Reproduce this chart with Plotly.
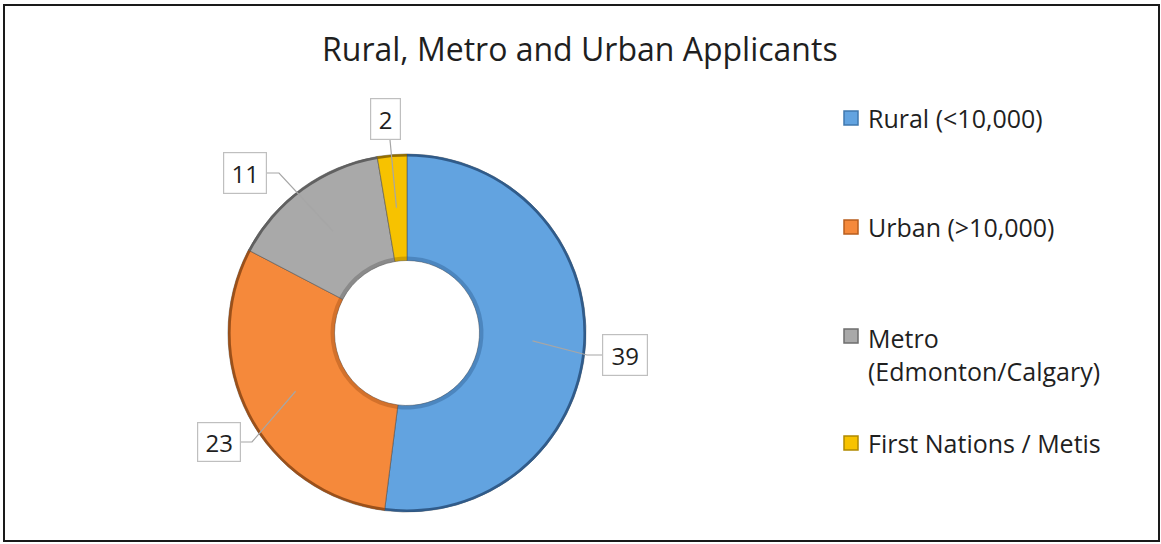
import math
import plotly.graph_objects as go

# ---------------- data ----------------
categories = ["Rural (<10,000)", "Urban (>10,000)", "Metro (Edmonton/Calgary)", "First Nations / Metis"]
legend_labels = ["Rural (<10,000)", "Urban (>10,000)", "Metro<br>(Edmonton/Calgary)", "First Nations / Metis"]
values = [39, 23, 11, 2]
title_text = "Rural, Metro and Urban Applicants"

# ---------------- style / layout ----------------
colors = ["#62A3E0", "#F5893B", "#A9A9A9", "#F7C200"]
rim_colors = ["rgba(40,80,125,0.85)", "rgba(140,70,20,0.85)", "rgba(85,85,85,0.85)", "rgba(130,95,0,0.85)"]
inner_colors = ["rgba(50,100,150,0.45)", "rgba(170,85,25,0.45)", "rgba(100,100,100,0.45)", "rgba(160,120,0,0.45)"]
edge_colors = ["#3F78AE", "#B85E1E", "#6E6E6E", "#B08900"]
W, H = 1161, 544
CX, CY, R = 407, 333, 179          # pie centre / radius in px
HOLE = 0.405
FONT = "'Open Sans', Lato, sans-serif"
TXT = "#1f1f1f"

# label boxes: centre (px), and where the leader line meets the box
label_boxes = [
    dict(cx=625, cy=355, w=46, h=42, side="left", elbow=15),
    dict(cx=219, cy=442, w=44, h=40, side="right", elbow=11),
    dict(cx=245, cy=173, w=44, h=42, side="right", elbow=12),
    dict(cx=386, cy=119, w=31, h=42, side="bottom", elbow=0),
]
legend_x, legend_text_x = 851, 866
legend_y = [118, 227, 336, 443]
legend_text_y = [118, 227, 354, 443]


def px(x):
    return x / W


def py(y):
    return 1 - y / H


def dom(r):
    return dict(x=[px(CX - r), px(CX + r)], y=[py(CY + r), py(CY - r)])


pie_common = dict(values=values, sort=False, direction="clockwise", rotation=0,
                  textinfo="none", showlegend=False)

fig = go.Figure()
fig.add_trace(go.Pie(
    labels=categories, hole=HOLE, hoverinfo="label+value",
    marker=dict(colors=colors, line=dict(color="rgba(70,70,70,0.5)", width=1)),
    domain=dom(R), **pie_common,
))
# outer dark rim (bevel edge)
fig.add_trace(go.Pie(
    labels=categories, hole=1 - 2.6 / R, hoverinfo="skip",
    marker=dict(colors=rim_colors, line=dict(width=0)),
    domain=dom(R), **pie_common,
))
# inner shading rim
r_in = R * HOLE + 4
fig.add_trace(go.Pie(
    labels=categories, hole=(R * HOLE) / r_in, hoverinfo="skip",
    marker=dict(colors=inner_colors, line=dict(width=0)),
    domain=dom(r_in), **pie_common,
))

shapes = []
annotations = []

# centroid of each slice from the data
total = sum(values)
cum = 0
r_mid = R * (1 + HOLE) / 2
for i, v in enumerate(values):
    mid = (cum + v / 2) / total * 2 * math.pi
    cum += v
    sx = CX + r_mid * math.sin(mid)
    sy = CY - r_mid * math.cos(mid)
    b = label_boxes[i]
    if b["side"] == "left":
        ex, ey = b["cx"] - b["w"] / 2, b["cy"]
        kx, ky = ex - b["elbow"], ey
    elif b["side"] == "right":
        ex, ey = b["cx"] + b["w"] / 2, b["cy"]
        kx, ky = ex + b["elbow"], ey
    else:
        ex, ey = b["cx"] + 4, b["cy"] + b["h"] / 2
        kx, ky = ex, ey
    path = f"M {px(sx)},{py(sy)} L {px(kx)},{py(ky)} L {px(ex)},{py(ey)}"
    shapes.append(dict(type="path", xref="paper", yref="paper", path=path,
                       line=dict(color="#A6A6A6", width=1.2), layer="above"))
    annotations.append(dict(
        x=px(b["cx"]), y=py(b["cy"]), xref="paper", yref="paper",
        text=str(v), showarrow=False, xanchor="center", yanchor="middle",
        width=b["w"] - 2, height=b["h"] - 2, bgcolor="white",
        bordercolor="#BFBFBF", borderwidth=1.2, borderpad=0,
        font=dict(family=FONT, size=24, color=TXT),
    ))

# custom legend
for i, lab in enumerate(legend_labels):
    s = 7
    shapes.append(dict(type="rect", xref="paper", yref="paper",
                       x0=px(legend_x - s), x1=px(legend_x + s),
                       y0=py(legend_y[i] + s), y1=py(legend_y[i] - s),
                       fillcolor=colors[i], line=dict(color=edge_colors[i], width=1.5)))
    annotations.append(dict(
        x=px(legend_text_x), y=py(legend_text_y[i]), xref="paper", yref="paper",
        text=lab, showarrow=False, xanchor="left", yanchor="middle", align="left",
        font=dict(family=FONT, size=25, color=TXT),
    ))

# title
annotations.append(dict(
    x=px(580), y=py(48), xref="paper", yref="paper", text=title_text,
    showarrow=False, xanchor="center", yanchor="middle",
    font=dict(family=FONT, size=32, color=TXT),
))

# chart border
shapes.append(dict(type="rect", xref="paper", yref="paper",
                   x0=px(4), x1=px(1159), y0=py(541), y1=py(5),
                   line=dict(color="#1a1a1a", width=2)))

fig.update_layout(
    width=W, height=H,
    margin=dict(l=0, r=0, t=0, b=0),
    paper_bgcolor="white", plot_bgcolor="white",
    shapes=shapes, annotations=annotations,
    showlegend=False,
)

fig.write_html("out.html", config={"displayModeBar": False},
               post_script="document.body.style.margin='0';document.body.style.overflow='hidden';")
